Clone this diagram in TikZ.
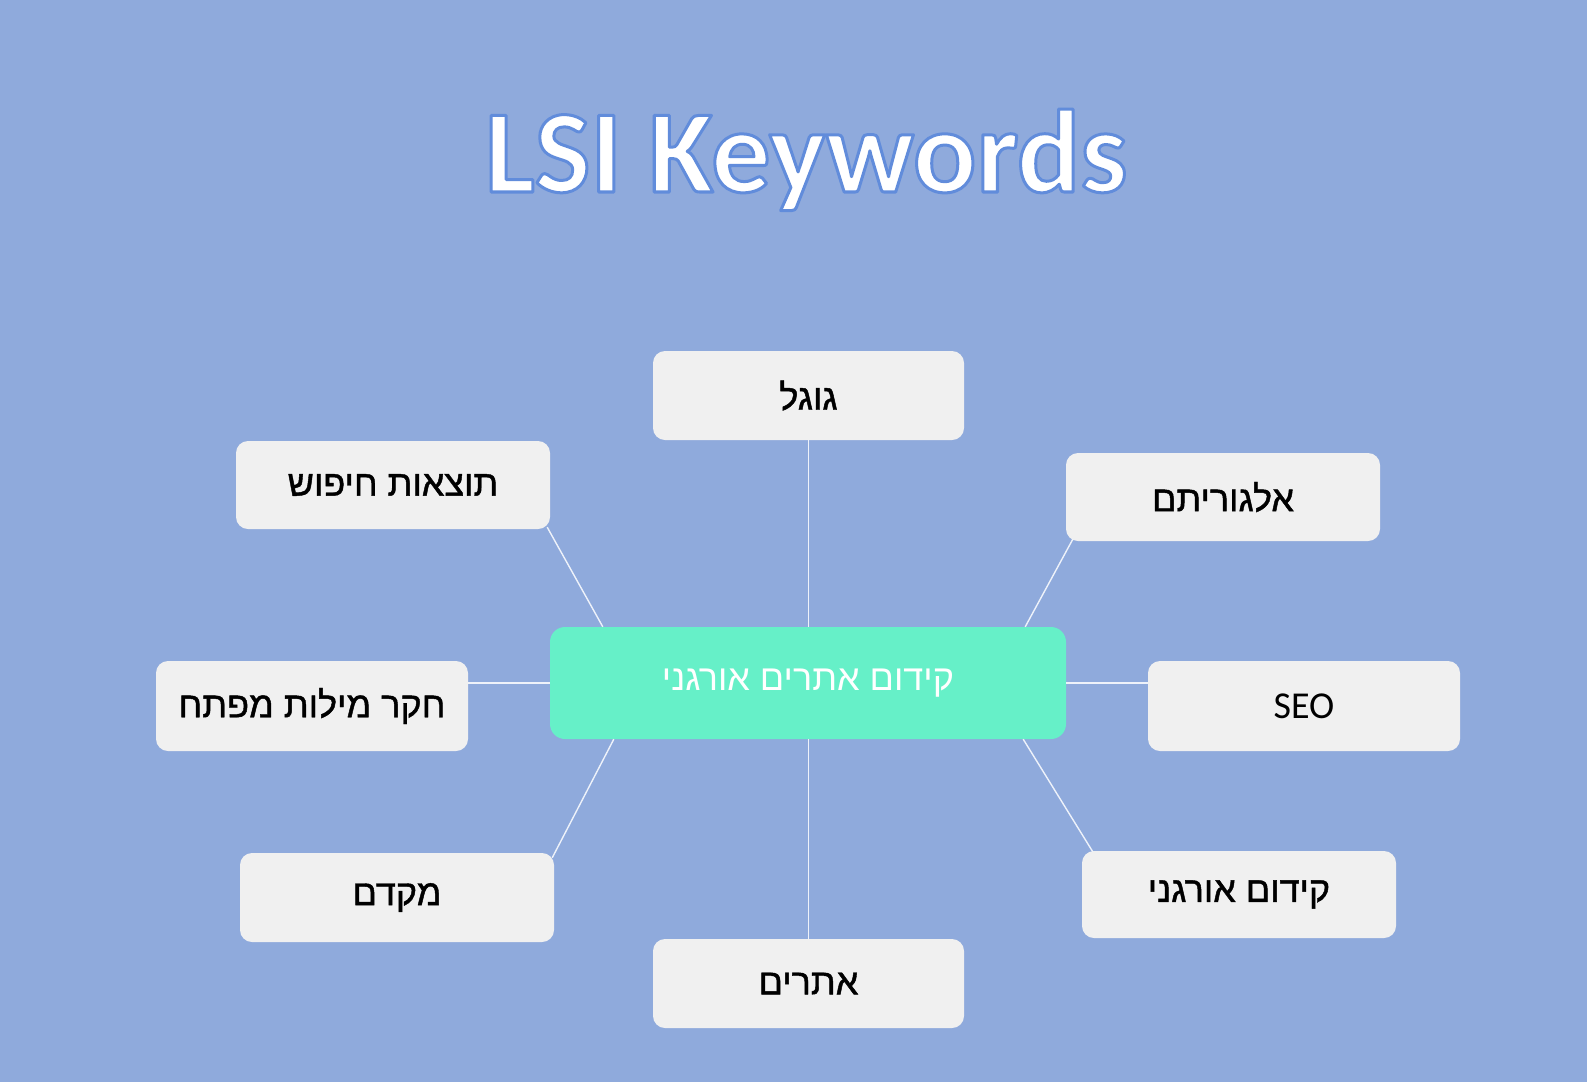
\documentclass[tikz,border=0pt]{standalone}
\usepackage{fontspec}
\usetikzlibrary{calc}
\setmainfont{Carlito}
\newfontfamily\hebfont[Script=Hebrew,FakeBold=1.2]{Liberation Sans}
\newfontfamily\hebhub[Script=Hebrew]{Liberation Sans}
\TeXXeTstate=1
\definecolor{bgblue}{HTML}{8FAADC}
\definecolor{mint}{HTML}{66F0C8}
\definecolor{boxgray}{HTML}{F0F0F0}
\definecolor{linec}{HTML}{EEF2FA}
\newcommand{\glowtext}[1]{\special{pdf:literal direct 0.38 0.55 0.86 RG 3 w 1 j 2 Tr}#1\special{pdf:literal direct 0 Tr}}
\tikzset{
  leaf/.style={fill=boxgray, rounded corners=12pt, minimum width=#1, inner sep=0pt, text=black, font=\hebfont\fontsize{36}{36}\selectfont},
  leaf/.default=312pt,
  hub/.style={fill=mint, rounded corners=15pt, minimum width=516pt, minimum height=112pt, inner sep=0pt, text=white, font=\hebhub\fontsize{36}{36}\selectfont},
  link/.style={draw=linec, line width=1.4pt},
}
\begin{document}
\begin{tikzpicture}[x=1pt,y=-1pt]
\useasboundingbox (0,0) rectangle (1587,1082);
\fill[bgblue] (0,0) rectangle (1587,1082);
\node[anchor=base, text=white, font=\bfseries\fontsize{118}{118}\selectfont] (title) at (806,192) {\glowtext{LSI Keywords}};
% nodes
\node[hub] (c) at (808,683) {\beginR קידום אתרים אורגני\endR};
\node[leaf=311pt, minimum height=89pt] (gog) at (808.5,395.5) {\beginR גוגל\endR};
\node[leaf=314pt, minimum height=88pt] (tv) at (393,485) {\beginR תוצאות חיפוש\endR};
\node[leaf=314pt, minimum height=88pt] (alg) at (1223,497) {\beginR אלגוריתם\endR};
\node[leaf=312pt, minimum height=90pt] (hk) at (312,706) {\beginR חקר מילות מפתח\endR};
\node[leaf=312pt, minimum height=90pt, font=\fontsize{38}{38}\selectfont] (seo) at (1304,706) {SEO};
\node[leaf=314pt, minimum height=89pt] (mk) at (397,897.5) {\beginR מקדם\endR};
\node[leaf=314pt, minimum height=87pt] (ko) at (1239,894.5) {\beginR קידום אורגני\endR};
\node[leaf=311pt, minimum height=89pt] (at) at (808.5,983.5) {\beginR אתרים\endR};
% connectors
\draw[link] (gog.south) -- (gog.south |- c.north);
\draw[link] (at.north) -- (at.north |- c.south);
\draw[link] (hk.east |- c.west) -- (c.west);
\draw[link] (c.east) -- (seo.west |- c.east);
\draw[link] ([xshift=-3pt,yshift=2pt]tv.south east) -- ([xshift=53pt]c.north west);
\draw[link] ([xshift=7pt,yshift=2pt]alg.south west) -- ([xshift=-41pt]c.north east);
\draw[link] ([xshift=-2pt,yshift=-5pt]mk.north east) -- ([xshift=64pt]c.south west);
\draw[link] ([xshift=11pt,yshift=-1pt]ko.north west) -- ([xshift=-43pt]c.south east);
\end{tikzpicture}
\end{document}
